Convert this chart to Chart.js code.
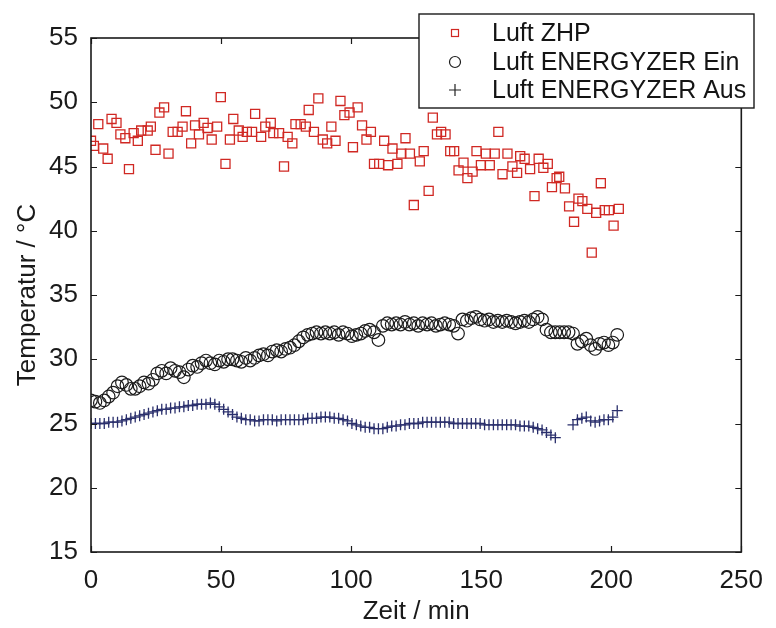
<!DOCTYPE html>
<html>
<head>
<meta charset="utf-8">
<script src="https://cdn.jsdelivr.net/npm/chart.js@4.4.1/dist/chart.umd.min.js"></script>
<style>
  html, body { margin: 0; padding: 0; background: #fff; }
  #wrap { width: 776px; height: 628px; }
</style>
</head>
<body>
<div id="wrap"><canvas id="meinChart" width="776" height="628"></canvas></div>
<script>
const serienNamen = ["Luft ZHP", "Luft ENERGYZER Ein", "Luft ENERGYZER Aus"];

const zeitZHP = [0, 1.1, 2.8, 4.7, 6.4, 7.9, 9.8, 11.3, 13.2, 14.6, 16.4, 18.0, 19.3, 21.8, 23.0, 24.8, 26.3, 28.1, 29.8, 31.4,
    33.3, 35.2, 36.5, 38.5, 40.0, 41.5, 43.3, 44.8, 46.4, 48.5, 49.9, 51.7, 53.4, 54.7, 56.8, 58.3, 59.9, 61.9, 63.1, 65.4,
    67.0, 69.1, 70.1, 72.3, 74.2, 75.6, 77.4, 78.6, 80.6, 82.6, 83.7, 85.7, 87.4, 89.1, 90.8, 92.4, 94.0, 95.9, 97.4, 99.4,
    100.7, 102.5, 104.2, 105.9, 107.6, 108.8, 110.8, 112.7, 114.2, 115.9, 117.8, 119.3, 120.9, 122.6, 124.1, 126.4, 127.9, 129.8, 131.4, 133.0,
    134.6, 136.3, 138.1, 139.6, 141.3, 143.2, 144.7, 146.7, 148.2, 149.9, 151.8, 153.3, 155.2, 156.6, 158.2, 160.1, 162.0, 163.8, 165.0, 166.7,
    168.8, 170.5, 172.1, 173.9, 175.6, 177.2, 179.0, 180.0, 182.2, 183.8, 185.7, 187.4, 188.9, 190.8, 192.5, 194.2, 196.0, 197.5, 199.1, 200.9,
    202.9];
const luftZHP = [47.0, 46.6, 48.3, 46.4, 45.6, 48.7, 48.4, 47.5, 47.2, 44.8, 47.6, 47.0, 47.8, 47.8, 48.1, 46.3, 49.2, 49.6, 46.0, 47.7,
    47.7, 48.1, 49.3, 46.8, 48.2, 47.5, 48.4, 48.0, 47.1, 48.1, 50.4, 45.2, 47.1, 48.7, 47.8, 47.3, 47.7, 47.7, 49.1, 47.3,
    48.1, 48.4, 47.6, 47.6, 45.0, 47.3, 46.8, 48.3, 48.3, 48.1, 49.4, 47.7, 50.3, 47.1, 46.8, 48.1, 47.0, 50.1, 49.0, 49.2,
    46.5, 49.6, 48.2, 47.1, 47.7, 45.2, 45.2, 47.0, 45.1, 46.4, 45.2, 46.0, 47.2, 46.0, 42.0, 45.4, 46.2, 43.1, 48.8, 47.5,
    47.7, 47.5, 46.2, 46.2, 44.7, 45.3, 44.1, 44.6, 46.2, 45.1, 46.0, 45.1, 46.0, 47.7, 44.4, 46.0, 45.0, 44.5, 45.8, 45.6,
    44.8, 42.7, 45.6, 44.9, 45.2, 43.4, 44.1, 44.2, 43.3, 41.9, 40.7, 42.5, 42.3, 41.7, 38.3, 41.4, 43.7, 41.6, 41.6, 40.4,
    41.7];

const zeitEnergyzer = [0, 1.7, 3.4, 5.1, 6.8, 8.5, 10.2, 11.9, 13.6, 15.3,
    17, 18.7, 20.4, 22.1, 23.8, 25.5, 27.2, 28.9, 30.6, 32.3,
    34, 35.7, 37.4, 39.1, 40.8, 42.5, 44.2, 45.9, 47.6, 49.3,
    51, 52.7, 54.4, 56.1, 57.8, 59.5, 61.2, 62.9, 64.6, 66.3,
    68, 69.7, 71.4, 73.1, 74.8, 76.5, 78.2, 79.9, 81.6, 83.3,
    85, 86.7, 88.4, 90.1, 91.8, 93.5, 95.2, 96.9, 98.6, 100.3,
    102, 103.7, 105.4, 107.1, 108.8, 110.5, 112.2, 113.9, 115.6, 117.3,
    119, 120.7, 122.4, 124.1, 125.8, 127.5, 129.2, 130.9, 132.6, 134.3,
    136, 137.7, 139.4, 141.1, 142.8, 144.5, 146.2, 147.9, 149.6, 151.3,
    153, 154.7, 156.4, 158.1, 159.8, 161.5, 163.2, 164.9, 166.6, 168.3,
    170, 171.7, 173.4, 175.1, 176.8, 178.5, 180.2, 181.9, 183.6, 185.3,
    187, 188.7, 190.4, 192.1, 193.8, 195.5, 197.2, 198.9, 200.6, 202.3];
const luftEin = [26.8, 26.7, 26.6, 26.8, 27.1, 27.4, 27.9, 28.2, 28.0, 27.7,
    27.7, 27.9, 28.2, 28.1, 28.4, 28.9, 29.1, 28.9, 29.3, 29.1,
    29.0, 28.6, 29.2, 29.5, 29.4, 29.7, 29.9, 29.7, 29.6, 29.9,
    29.8, 30.0, 30.0, 29.9, 29.8, 30.1, 29.9, 30.1, 30.3, 30.4,
    30.3, 30.6, 30.7, 30.6, 30.8, 30.9, 31.1, 31.4, 31.7, 31.9,
    32.0, 32.1, 32.0, 32.1, 32.0, 32.1, 31.9, 32.1, 32.0, 31.8,
    31.9, 32.0, 32.2, 32.3, 32.1, 31.5, 32.6, 32.8, 32.7, 32.8,
    32.7, 32.9, 32.7, 32.8, 32.6, 32.8, 32.7, 32.8, 32.6, 32.7,
    32.8, 32.7, 32.6, 32.0, 33.1, 33.0, 33.2, 33.3, 33.1, 33.0,
    33.1, 32.9, 33.0, 32.9, 33.0, 32.9, 32.8, 32.9, 33.0, 32.9,
    33.1, 33.3, 33.1, 32.3, 32.1, 32.1, 32.1, 32.1, 32.1, 32.0,
    31.2, 31.4, 31.6, 31.1, 30.8, 31.2, 31.3, 31.1, 31.3, 31.9];
const luftAus = [25.0, 25.0, 25.0, 25.0, 25.1, 25.1, 25.1, 25.2, 25.3, 25.4,
    25.5, 25.6, 25.7, 25.8, 25.9, 26.0, 26.1, 26.1, 26.2, 26.2,
    26.3, 26.3, 26.4, 26.4, 26.5, 26.5, 26.5, 26.6, 26.5, 26.3,
    26.1, 25.9, 25.7, 25.5, 25.4, 25.3, 25.3, 25.2, 25.2, 25.3,
    25.3, 25.3, 25.2, 25.3, 25.3, 25.3, 25.3, 25.3, 25.3, 25.4,
    25.4, 25.4, 25.5, 25.5, 25.5, 25.4, 25.4, 25.3, 25.2, 25.0,
    24.9, 24.8, 24.7, 24.7, 24.6, 24.6, 24.6, 24.7, 24.8, 24.8,
    24.9, 24.9, 25.0, 25.0, 25.0, 25.1, 25.1, 25.1, 25.1, 25.1,
    25.1, 25.1, 25.0, 25.0, 25.0, 25.0, 25.0, 25.0, 25.0, 24.9,
    24.9, 24.9, 24.9, 24.9, 24.9, 24.9, 24.9, 24.8, 24.8, 24.8,
    24.7, 24.6, 24.5, 24.3, 24.1, 23.9, null, null, null, 24.9,
    25.3, 25.4, 25.5, 25.2, 25.1, 25.2, 25.3, 25.3, 25.5, 26.0];

const xTicks = [0, 50, 100, 150, 200, 250];
const yTicks = [15, 20, 25, 30, 35, 40, 45, 50, 55];

const farbeZHP = "#d02823";
const farbeEin = "#1c1c1c";
const farbeAus = "#2a2f6c";

function punkte(zeiten, werte) {
    let lista = [];
    for (let i = 0; i < zeiten.length; i++) {
        lista.push({ x: zeiten[i], y: werte[i] });
    }
    return lista;
}

// Rahmen mit Ticks nach innen (wie Matlab)
const rahmenPlugin = {
    id: "rahmen",
    afterDatasetsDraw(chart) {
        const { ctx, chartArea: a, scales } = chart;
        ctx.save();
        ctx.strokeStyle = "#1a1a1a";
        ctx.lineWidth = 1.2;
        ctx.beginPath();
        xTicks.forEach(v => {
            const px = Math.round(scales.x.getPixelForValue(v)) + 0.5;
            ctx.moveTo(px, a.bottom); ctx.lineTo(px, a.bottom - 6);
            ctx.moveTo(px, a.top); ctx.lineTo(px, a.top + 6);
        });
        yTicks.forEach(v => {
            const py = Math.round(scales.y.getPixelForValue(v)) + 0.5;
            ctx.moveTo(a.left, py); ctx.lineTo(a.left + 6, py);
            ctx.moveTo(a.right, py); ctx.lineTo(a.right - 6, py);
        });
        ctx.stroke();
        ctx.lineWidth = 1.6;
        ctx.strokeRect(a.left, a.top, a.right - a.left, a.bottom - a.top);
        ctx.restore();
    },
    afterDraw(chart) {
        const ctx = chart.ctx;
        const box = { left: 419, top: 14, width: 335, height: 94 };
        ctx.save();
        ctx.fillStyle = "#fff";
        ctx.fillRect(box.left, box.top, box.width, box.height);
        ctx.strokeStyle = "#1a1a1a";
        ctx.lineWidth = 1.4;
        ctx.strokeRect(box.left, box.top, box.width, box.height);

        const zeilen = [33, 62, 90];
        const mx = 455;
        ctx.lineWidth = 1.2;
        // Quadrat
        ctx.strokeStyle = farbeZHP;
        ctx.strokeRect(mx - 3.5, zeilen[0] - 3.5, 7, 7);
        // Kreis
        ctx.strokeStyle = farbeEin;
        ctx.beginPath();
        ctx.arc(mx, zeilen[1], 5.5, 0, Math.PI * 2);
        ctx.stroke();
        // Kreuz
        ctx.strokeStyle = "#222";
        ctx.beginPath();
        ctx.moveTo(mx - 6, zeilen[2]); ctx.lineTo(mx + 6, zeilen[2]);
        ctx.moveTo(mx, zeilen[2] - 6); ctx.lineTo(mx, zeilen[2] + 6);
        ctx.stroke();

        ctx.fillStyle = "#141414";
        ctx.font = "25px 'Liberation Sans', Arial, sans-serif";
        ctx.textBaseline = "middle";
        for (let i = 0; i < serienNamen.length; i++) {
            ctx.fillText(serienNamen[i], 492, zeilen[i] + 1);
        }
        ctx.restore();
    }
};

Chart.defaults.font.family = "'Liberation Sans', Arial, sans-serif";
Chart.defaults.color = "#1a1a1a";

const config = {
    type: "scatter",
    data: {
        datasets: [
            {
                label: serienNamen[0],
                data: punkte(zeitZHP, luftZHP),
                pointStyle: "rect",
                pointRadius: 6.4,
                borderColor: farbeZHP,
                backgroundColor: "rgba(0,0,0,0)",
                borderWidth: 1.3,
            },
            {
                label: serienNamen[1],
                data: punkte(zeitEnergyzer, luftEin),
                pointStyle: "circle",
                pointRadius: 6.3,
                borderColor: farbeEin,
                backgroundColor: "rgba(0,0,0,0)",
                borderWidth: 1.2,
            },
            {
                label: serienNamen[2],
                data: punkte(zeitEnergyzer, luftAus),
                pointStyle: "cross",
                pointRadius: 5.5,
                borderColor: farbeAus,
                backgroundColor: farbeAus,
                borderWidth: 1.3,
            },
        ],
    },
    options: {
        responsive: false,
        animation: false,
        devicePixelRatio: 1,
        layout: { padding: { top: 38, right: 29, left: 0, bottom: 0 } },
        plugins: {
            legend: { display: false },
            tooltip: { enabled: false },
        },
        scales: {
            x: {
                type: "linear",
                min: 0,
                max: 250,
                afterBuildTicks: (scale) => { scale.ticks = xTicks.map(v => ({ value: v })); },
                afterFit: (scale) => { scale.height = 76; },
                grid: { display: false, drawTicks: false },
                border: { display: false },
                ticks: { font: { size: 26 }, padding: 13, color: "#1a1a1a" },
                title: {
                    display: true,
                    text: "Zeit / min",
                    font: { size: 26 },
                    padding: { top: 0, bottom: 1 },
                    color: "#1a1a1a",
                },
            },
            y: {
                type: "linear",
                min: 15,
                max: 55,
                afterBuildTicks: (scale) => { scale.ticks = yTicks.map(v => ({ value: v })); },
                afterFit: (scale) => { scale.width = 91; },
                grid: { display: false, drawTicks: false },
                border: { display: false },
                ticks: { font: { size: 26 }, padding: 13, color: "#1a1a1a" },
                title: {
                    display: true,
                    text: "Temperatur / °C",
                    font: { size: 26 },
                    padding: { top: 12, bottom: 0 },
                    color: "#1a1a1a",
                },
            },
        },
    },
    plugins: [rahmenPlugin],
};

const meinChart = new Chart(document.getElementById("meinChart").getContext("2d"), config);
</script>
</body>
</html>
